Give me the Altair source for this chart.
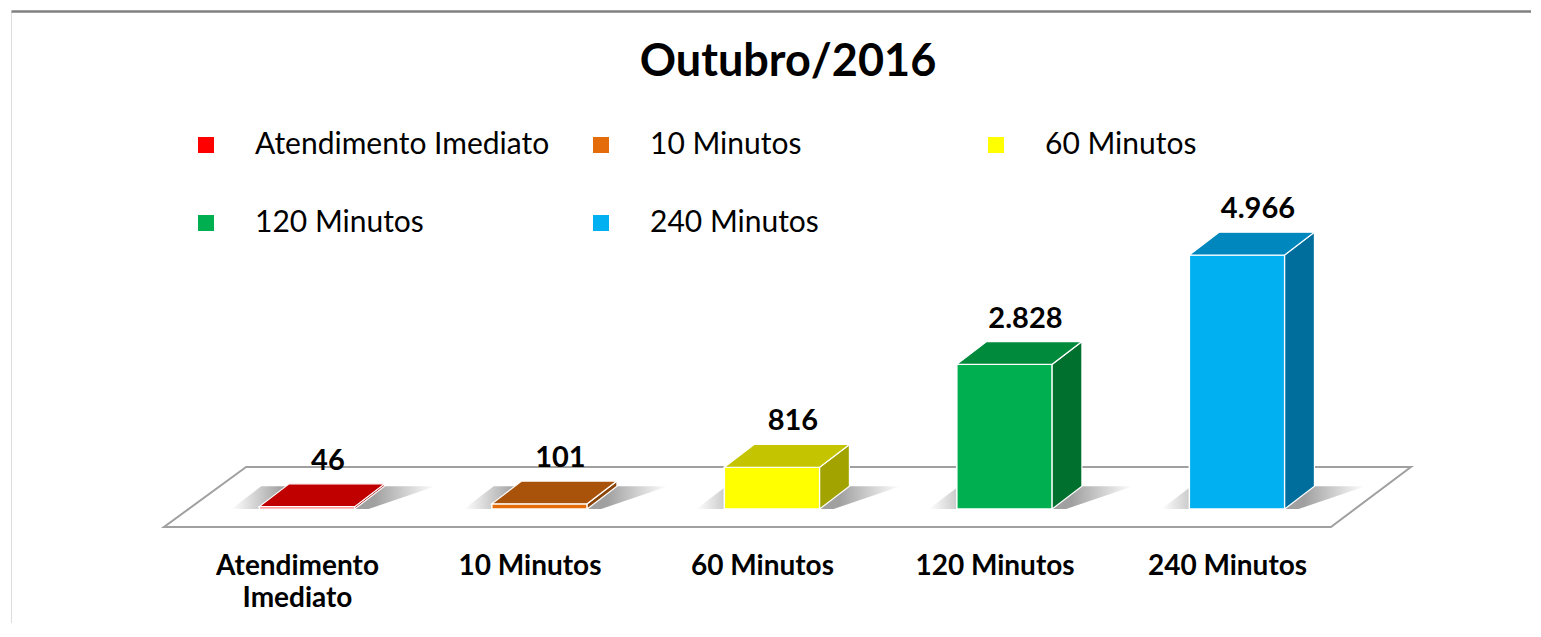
import altair as alt
import pandas as pd

# ---------------- data ----------------
categories = ["Atendimento Imediato", "10 Minutos", "60 Minutos", "120 Minutos", "240 Minutos"]
values = [46, 101, 816, 2828, 4966]
front_colors = ["#FF0000", "#E46C0A", "#FFFF00", "#00B050", "#00B0F0"]
top_colors = ["#C00000", "#A9530A", "#C4C400", "#008A3C", "#0087BE"]
side_colors = ["#9C0000", "#8A4408", "#A3A300", "#00702F", "#006E9C"]
title_text = "Outubro/2016"

# ---------------- 3D geometry (in scale units) ----------------
HALF_W = 0.205      # half front-face width (category units)
DEPTH_X = 0.128     # depth offset along x (category units)
DEPTH_Y = 445       # depth offset along y (value units)
FLOOR_FRONT, FLOOR_BACK = -352, 821
FLOOR_FRONT_X = (-0.615, 4.404)
FLOOR_BACK_X = (-0.262, 4.748)

X_DOMAIN = [-1.2731, 5.2645]
Y_DOMAIN = [-2229, 9736]
W, H = 1520, 612

idx = list(range(len(categories)))

bars = pd.DataFrame({
    "cat": categories,
    "idx": idx,
    "value": values,
    "x0": [i - HALF_W for i in idx],
    "x1": [i + HALF_W for i in idx],
    "lx": [i + 0.09 for i in idx],
    "ly": [v + DEPTH_Y for v in values],
})

side_rows, top_rows, shadow_rows = [], [], []
for i, c, v, sc, tc in zip(idx, categories, values, side_colors, top_colors):
    for k in (0, 1):
        side_rows.append({"cat": c, "col": sc, "x": i + HALF_W + k * DEPTH_X,
                          "y": k * DEPTH_Y, "y2": v + k * DEPTH_Y})
        top_rows.append({"cat": c, "col": tc, "y": v + k * DEPTH_Y,
                         "x": i - HALF_W + k * DEPTH_X, "x2": i + HALF_W + k * DEPTH_X})
        shadow_rows.append({"cat": c, "y": k * DEPTH_Y,
                            "x": i - HALF_W - 0.12 + k * DEPTH_X,
                            "x2": i + HALF_W + 0.06 + k * (DEPTH_X + 0.16)})
side_df = pd.DataFrame(side_rows)
top_df = pd.DataFrame(top_rows)
shadow_df = pd.DataFrame(shadow_rows)
floor_df = pd.DataFrame({
    "y": [FLOOR_FRONT, FLOOR_BACK],
    "x": [FLOOR_FRONT_X[0], FLOOR_BACK_X[0]],
    "x2": [FLOOR_FRONT_X[1], FLOOR_BACK_X[1]],
})

xs = alt.Scale(domain=X_DOMAIN, nice=False, zero=False)
ys = alt.Scale(domain=Y_DOMAIN, nice=False, zero=False)

# axis label expression (wrap long names onto two lines)
def wrap(name):
    if len(name) > 12:
        return "[" + ",".join("'" + p + "'" for p in name.split(" ")) + "]"
    return "'" + name + "'"

label_expr = ""
for i, c in enumerate(categories):
    label_expr += f"datum.value == {i} ? {wrap(c)} : "
label_expr += "''"

border = "#808080"

floor = alt.Chart(floor_df).mark_area(
    orient="horizontal", fill="white", stroke="#A0A0A0", strokeWidth=2
).encode(
    y=alt.Y("y:Q", scale=ys, axis=alt.Axis(orient="left", labels=False, ticks=False, grid=False,
                                          domain=True, domainColor=border, domainWidth=3.5, title=None)),
    x=alt.X("x:Q", scale=xs, axis=alt.Axis(orient="top", labels=False, ticks=False, grid=False,
                                          domain=True, domainColor=border, domainWidth=2.5, title=None)),
    x2="x2:Q",
)

shadow = alt.Chart(shadow_df).mark_area(
    orient="horizontal",
    color=alt.Gradient(gradient="linear", x1=0, x2=1, y1=0, y2=0,
                       stops=[alt.GradientStop(color="white", offset=0),
                              alt.GradientStop(color="#A0A0A0", offset=0.25),
                              alt.GradientStop(color="#A0A0A0", offset=0.7),
                              alt.GradientStop(color="white", offset=1)]),
).encode(
    y=alt.Y("y:Q", scale=ys, axis=None),
    x=alt.X("x:Q", scale=xs, axis=None),
    x2="x2:Q",
    detail="cat:N",
)

front = alt.Chart(bars).mark_rect(stroke="white", strokeWidth=1.5).encode(
    x=alt.X("x0:Q", scale=xs, axis=alt.Axis(
        orient="bottom", values=idx, labelExpr=label_expr, domain=False, ticks=False, grid=False,
        labelFontSize=28, labelFontWeight="bold", labelColor="black", labelOffset=-10,
        offset=-71, labelPadding=0, labelLineHeight=32, title=None, labelFlush=False,
        labelOverlap=False, labelBaseline="top")),
    x2="x1:Q",
    y=alt.Y("zero:Q", scale=ys, axis=None),
    y2="value:Q",
    color=alt.Color("cat:N", scale=alt.Scale(domain=categories, range=front_colors),
                    legend=alt.Legend(
                        title=None, orient="none", legendX=180, legendY=119, columns=3,
                        direction="horizontal",
                        symbolType="square", symbolSize=256, symbolStrokeWidth=0,
                        labelFontSize=30, labelFont="Lato", labelColor="black", labelOffset=34,
                        gridAlign="all", columnPadding=36, rowPadding=48, padding=0,
                        labelLimit=0)),
).transform_calculate(zero="0")

side = alt.Chart(side_df).mark_area(orient="vertical", stroke="white", strokeWidth=1.2).encode(
    x=alt.X("x:Q", scale=xs, axis=None),
    y=alt.Y("y:Q", scale=ys, axis=None),
    y2="y2:Q",
    detail="cat:N",
    color=alt.Color("col:N", scale=None),
)

top = alt.Chart(top_df).mark_area(orient="horizontal", stroke="white", strokeWidth=1.2).encode(
    y=alt.Y("y:Q", scale=ys, axis=None),
    x=alt.X("x:Q", scale=xs, axis=None),
    x2="x2:Q",
    detail="cat:N",
    color=alt.Color("col:N", scale=None),
)

labels = alt.Chart(bars).mark_text(
    fontSize=29, fontWeight="bold", font="Lato", color="black", baseline="alphabetic", dy=-14
).encode(
    x=alt.X("lx:Q", scale=xs, axis=None),
    y=alt.Y("ly:Q", scale=ys, axis=None),
    text="txt:N",
).transform_calculate(txt="replace(format(datum.value, ','), ',', '.')")

chart = alt.layer(floor, shadow, front, side, top, labels).resolve_scale(
    color="independent"
).resolve_axis(x="independent").properties(
    width=W, height=H,
    padding={"left": 3, "top": 3, "right": 0, "bottom": 0},
    title=alt.TitleParams(title_text, fontSize=45, font="Lato", fontWeight="bold", color="black",
                          anchor="middle", offset=-110, dx=17, baseline="alphabetic"),
).configure_view(stroke=None).configure(font="Lato")

chart.save("out.html", embed_options={"renderer": "svg", "actions": False})
